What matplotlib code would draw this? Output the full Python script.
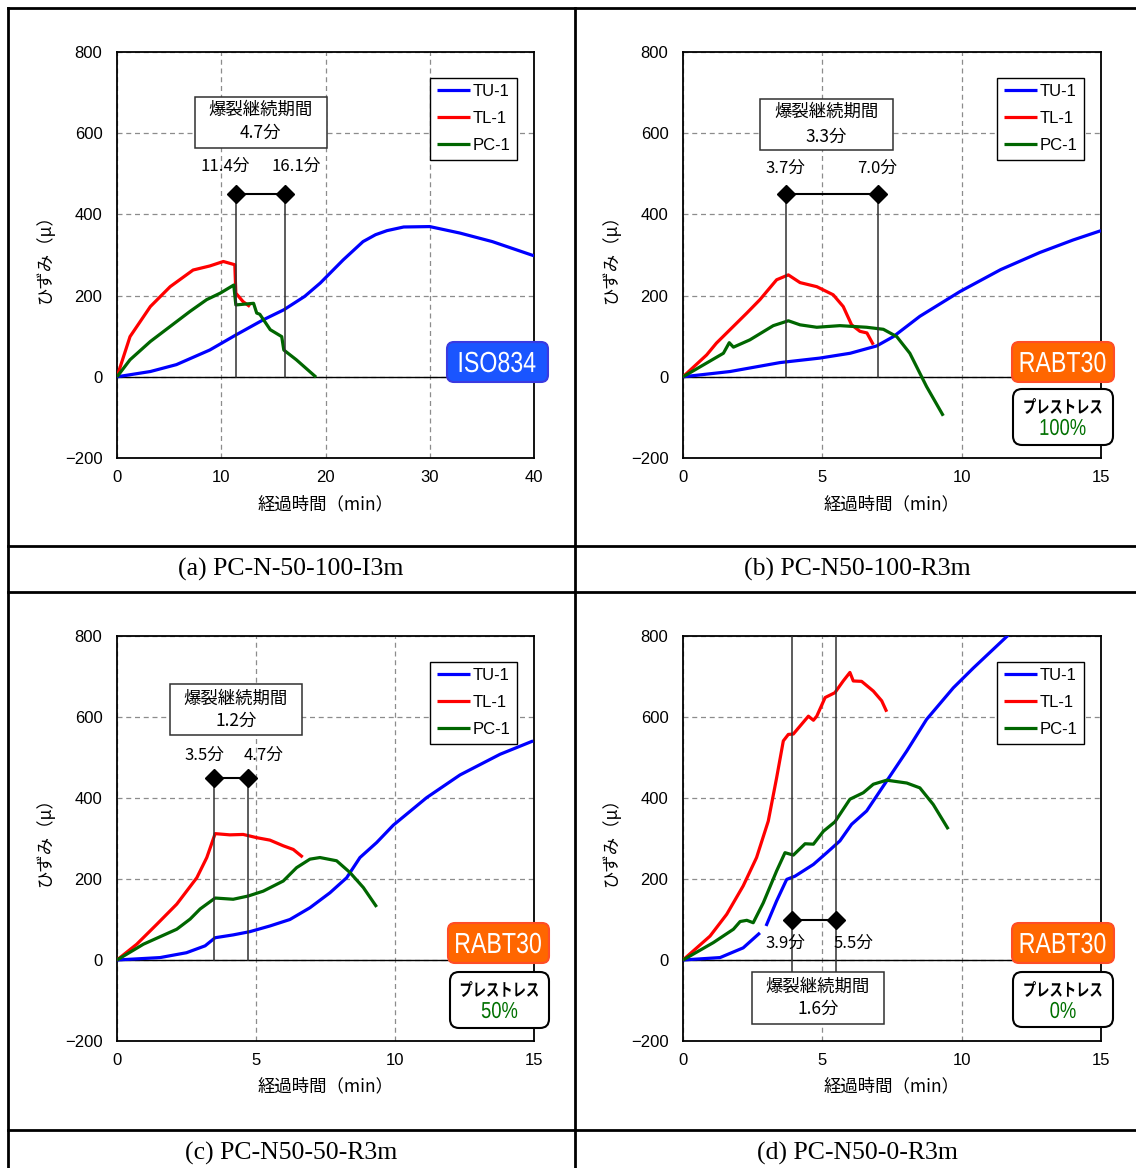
import numpy as np
import matplotlib
matplotlib.use('Agg')
import matplotlib.pyplot as plt
from matplotlib.patches import FancyBboxPatch, Rectangle, PathPatch
from matplotlib.lines import Line2D
from matplotlib.transforms import Affine2D
from matplotlib.textpath import TextPath
from matplotlib.font_manager import FontProperties

nan = float('nan')

# ---------------- data ----------------
series_names = ['TU-1', 'TL-1', 'PC-1']
series_colors = ['#0000ff', '#ff0000', '#006600']

# (a) PC-N-50-100-I3m
a_tu_t = [0, 3.2, 5.7, 8.9, 11.4, 14.0, 16.0, 18.0, 19.5, 21.7, 23.6, 24.8, 25.9, 27.5, 30.0, 32.9, 36.0, 40.0]
a_tu_v = [0, 13, 30, 66, 103, 140, 165, 198, 231, 288, 333, 350, 360, 369, 370, 354, 333, 298]
a_tl_t = [0, 1.25, 3.2, 5.1, 7.3, 8.9, 10.2, 11.3, 11.4, 12.1, 12.75]
a_tl_v = [0, 99, 173, 222, 263, 273, 284, 276, 206, 185, 173]
a_pc_t = [0, 1.25, 3.2, 5.1, 7.0, 8.6, 9.9, 11.2, 11.4, 13.1, 13.4, 13.7, 14.7, 15.8, 16.0, 17.2, 19.1]
a_pc_v = [0, 42, 87, 124, 161, 190, 206, 226, 177, 181, 157, 154, 116, 99, 66, 42, -1]

# (b) PC-N50-100-R3m
b_tu_t = [0, 1.69, 3.48, 4.9, 6.0, 6.95, 7.55, 8.5, 9.94, 11.4, 12.8, 14.0, 15.0]
b_tu_v = [0, 13, 35, 46, 58, 76, 99, 149, 210, 264, 306, 337, 360]
b_tl_t = [0, 0.85, 1.2, 2.29, 2.76, 3.36, 3.78, 4.2, 4.8, 5.39, 5.75, 6.05, 6.35, 6.6, 6.83]
b_tl_v = [0, 54, 83, 157, 190, 239, 251, 232, 222, 202, 173, 128, 112, 108, 79]
b_pc_t = [0, 0.85, 1.45, 1.66, 1.81, 2.4, 3.24, 3.78, 4.2, 4.8, 5.63, 6.59, 7.19, 7.67, 8.14, 8.74, 9.34]
b_pc_v = [0, 34, 58, 84, 73, 91, 126, 138, 128, 122, 126, 122, 117, 99, 58, -24, -96]

# (c) PC-N50-50-R3m
c_tu_t = [0, 1.55, 2.5, 3.17, 3.53, 4.18, 4.78, 5.5, 6.22, 6.94, 7.66, 8.26, 8.74, 9.34, 9.94, 11.14, 12.34, 13.78, 14.97]
c_tu_v = [0, 6, 18, 35, 55, 62, 70, 84, 100, 129, 166, 203, 253, 290, 333, 401, 457, 508, 541]
c_tl_t = [0, 0.71, 1.43, 2.15, 2.87, 3.23, 3.53, 4.06, 4.54, 5.03, 5.5, 5.98, 6.34, 6.68]
c_tl_v = [0, 39, 88, 138, 203, 253, 312, 309, 310, 302, 296, 282, 273, 254]
c_pc_t = [0, 0.95, 2.15, 2.63, 2.99, 3.53, 4.18, 4.72, 5.26, 5.98, 6.46, 6.94, 7.3, 7.9, 8.38, 8.86, 9.34]
c_pc_v = [0, 39, 76, 101, 126, 153, 150, 158, 170, 195, 228, 249, 253, 245, 216, 179, 131]

# (d) PC-N50-0-R3m
d_tu_t = [0, 1.33, 2.16, 2.76, nan, 2.98, 3.36, 3.72, 4.02, 4.68, 5.16, 5.63, 6.05, 6.59, 7.31, 8.03, 8.74, 9.7, 10.42, 11.13, 11.67]
d_tu_v = [0, 6, 30, 67, nan, 84, 146, 199, 207, 236, 265, 294, 335, 368, 442, 516, 594, 672, 721, 767, 802]
d_tl_t = [0, 0.97, 1.57, 2.16, 2.64, 3.06, 3.36, 3.6, 3.78, 3.96, 4.5, 4.68, 4.8, 5.1, 5.45, 5.75, 5.99, 6.11, 6.41, 6.83, 7.13, 7.31]
d_tl_v = [0, 59, 113, 183, 253, 343, 450, 541, 557, 558, 602, 592, 602, 648, 660, 689, 710, 689, 688, 664, 640, 613]
d_pc_t = [0, 1.09, 1.81, 2.05, 2.29, 2.52, 2.88, 3.36, 3.66, 3.96, 4.38, 4.68, 5.04, 5.45, 5.99, 6.47, 6.83, 7.31, 8.03, 8.5, 8.98, 9.52]
d_pc_v = [0, 43, 76, 95, 98, 92, 141, 220, 265, 259, 287, 286, 318, 341, 397, 413, 434, 444, 437, 425, 384, 323]

captions = ['(a) PC-N-50-100-I3m', '(b) PC-N50-100-R3m', '(c) PC-N50-50-R3m', '(d) PC-N50-0-R3m']
x_max = [40, 15, 15, 15]
x_ticks = [[0, 10, 20, 30, 40], [0, 5, 10, 15], [0, 5, 10, 15], [0, 5, 10, 15]]
y_ticks = [-200, 0, 200, 400, 600, 800]
spall_start = [11.4, 3.7, 3.5, 3.9]
spall_end = [16.1, 7.0, 4.7, 5.5]
spall_dur = [4.7, 3.3, 1.2, 1.6]
heating = ['ISO834', 'RABT30', 'RABT30', 'RABT30']
prestress = [None, '100%', '50%', '0%']
prestress_label = 'プレストレス'
spall_title = '爆裂継続期間'

ylabel = 'ひずみ（μ）'
xlabel = '経過時間（min）'

# ---------------- layout/styling ----------------
W, H = 1136, 1168
fig = plt.figure(figsize=(W / 100, H / 100), dpi=100)
px = Affine2D().scale(1 / W, -1 / H).translate(0, 1) + fig.transFigure

NARROW = ['Liberation Sans Narrow', 'Liberation Sans', 'DejaVu Sans']
JP = ['Noto Sans CJK JP', 'DejaVu Sans']
SERIF = ['Liberation Serif', 'DejaVu Serif']


def squeezed_text(text, cx, cy, size_px, sx, family, color, weight='normal', z=11):
    """Draw text horizontally squeezed by sx, centred at pixel (cx, cy)."""
    fp = FontProperties(family=family, weight=weight)
    tp = TextPath((0, 0), text, size=size_px, prop=fp)
    ext = tp.get_extents()
    mx = (ext.x0 + ext.x1) / 2
    my = (ext.y0 + ext.y1) / 2
    tr = Affine2D().translate(-mx, -my).scale(sx, -1).translate(cx, cy) + px
    fig.add_artist(PathPatch(tp, transform=tr, facecolor=color, edgecolor='none', zorder=z))


# table lines
table_lw = 2.0
for (x0, y0, x1, y1) in [(8, 8, 1136, 8), (8, 546, 1136, 546), (8, 592, 1136, 592),
                         (8, 1130, 1136, 1130), (8, 8, 8, 1168), (575, 8, 575, 1168)]:
    fig.add_artist(Line2D([x0, x1], [y0, y1], transform=px, color='black', lw=table_lw))

cap_pos = [(291, 569), (857, 569), (291, 1153), (857, 1153)]
for cap, (cx, cy) in zip(captions, cap_pos):
    fig.text(cx, cy, cap, transform=px, ha='center', va='center', fontsize=18.5, family=SERIF)

axes_rects = [(117, 52, 534, 458), (683, 52, 1101, 458), (117, 636, 534, 1041), (683, 636, 1101, 1041)]

all_data = [
    [(a_tu_t, a_tu_v), (a_tl_t, a_tl_v), (a_pc_t, a_pc_v)],
    [(b_tu_t, b_tu_v), (b_tl_t, b_tl_v), (b_pc_t, b_pc_v)],
    [(c_tu_t, c_tu_v), (c_tl_t, c_tl_v), (c_pc_t, c_pc_v)],
    [(d_tu_t, d_tu_v), (d_tl_t, d_tl_v), (d_pc_t, d_pc_v)],
]

# annotation placement (data coords)
ann = [
    dict(my=450, ly=(0, 450), lab_y=518, lab_dx=(-1.05, 1.1), box=(7.5, 20.1, 563, 690), ty=(658, 601)),
    dict(my=450, ly=(0, 450), lab_y=514, lab_dx=(-0.04, -0.05), box=(2.76, 7.52, 558, 684), ty=(652, 591)),
    dict(my=450, ly=(0, 450), lab_y=506, lab_dx=(-0.36, 0.59), box=(1.9, 6.64, 556, 682), ty=(644, 590)),
    dict(my=100, ly=(-29, 800), lab_y=40, lab_dx=(-0.24, 0.61), box=(2.46, 7.22, -157, -29), ty=(-67, -121)),
]

badge_rects = [(447, 342, 548, 382), (1012, 342, 1114, 382), (448, 923, 549, 963), (1012, 923, 1114, 963)]
pre_rects = [None, (1013, 389, 1113, 445), (450, 972, 549, 1028), (1013, 972, 1113, 1027)]
badge_colors = {'ISO834': ('#1a55ff', '#3a3ae0'), 'RABT30': ('#ff6600', '#ff4d26')}

for i in range(4):
    l, t, r, b = axes_rects[i]
    ax = fig.add_axes([l / W, 1 - b / H, (r - l) / W, (b - t) / H])
    ax.set_xlim(0, x_max[i])
    ax.set_ylim(-200, 800)
    ax.set_xticks(x_ticks[i])
    ax.set_yticks(y_ticks)
    ax.grid(True, color='#8c8c8c', ls=(0, (4, 3)), lw=0.9)
    ax.set_axisbelow(True)
    ax.axhline(0, color='black', lw=1.0, zorder=1.5)
    ax.tick_params(length=0, labelsize=12)
    ax.tick_params(axis='y', pad=10.5)
    ax.tick_params(axis='x', pad=8.5)
    for lab in ax.get_xticklabels() + ax.get_yticklabels():
        lab.set_fontfamily(NARROW)
    for s in ax.spines.values():
        s.set_linewidth(1.3)
        s.set_color('black')
    ax.text(-0.173, 0.5, ylabel, transform=ax.transAxes, rotation=90, ha='center', va='center',
            fontsize=12.5, family=JP)
    ax.text(0.5, -0.113, xlabel, transform=ax.transAxes, ha='center', va='center',
            fontsize=12.5, family=JP)

    # curves
    handles = []
    for (tt, vv), name, col in zip(all_data[i], series_names, series_colors):
        h, = ax.plot(tt, vv, color=col, lw=2.3, label=name, zorder=3, solid_capstyle='butt')
        handles.append(h)

    leg = ax.legend(handles=handles, loc='upper left', bbox_to_anchor=(0.751, 0.937),
                    borderaxespad=0, fancybox=False, framealpha=1, edgecolor='black',
                    prop={'family': NARROW, 'size': 12}, handlelength=2.0, handletextpad=0.15,
                    labelspacing=0.72, borderpad=0.4)
    leg.get_frame().set_linewidth(1.0)
    leg.set_zorder(5)

    # spalling annotation
    a = ann[i]
    t1, t2 = spall_start[i], spall_end[i]
    for tv in (t1, t2):
        ax.plot([tv, tv], a['ly'], color='#303030', lw=1.1, zorder=4)
    ax.plot([t1, t2], [a['my'], a['my']], color='black', lw=1.5, marker='D', ms=9,
            markerfacecolor='black', zorder=4)
    ax.text(t1 + a['lab_dx'][0], a['lab_y'], f'{t1:.1f}分', ha='center', va='center',
            fontsize=12, family=JP, zorder=4)
    ax.text(t2 + a['lab_dx'][1], a['lab_y'], f'{t2:.1f}分', ha='center', va='center',
            fontsize=12, family=JP, zorder=4)
    bx0, bx1, by0, by1 = a['box']
    ax.add_patch(Rectangle((bx0, by0), bx1 - bx0, by1 - by0, facecolor='white',
                           edgecolor='#303030', lw=1.1, zorder=5, clip_on=False))
    xc = (bx0 + bx1) / 2
    ax.text(xc, a['ty'][0], spall_title, ha='center', va='center', fontsize=12.5,
            family=JP, zorder=6)
    ax.text(xc, a['ty'][1], f'{spall_dur[i]:.1f}分', ha='center', va='center', fontsize=12.5,
            family=JP, zorder=6)

    # heating badge
    x0, y0, x1, y1 = badge_rects[i]
    fc, ec = badge_colors[heating[i]]
    fig.add_artist(FancyBboxPatch((x0 + 5, y0 + 5), x1 - x0 - 10, y1 - y0 - 10,
                                  boxstyle='round,pad=5,rounding_size=7', transform=px,
                                  facecolor=fc, edgecolor=ec, lw=1.5, zorder=10))
    squeezed_text(heating[i], (x0 + x1) / 2, (y0 + y1) / 2, 29, 0.8, NARROW, 'white')

    if pre_rects[i] is not None:
        x0, y0, x1, y1 = pre_rects[i]
        fig.add_artist(FancyBboxPatch((x0 + 6, y0 + 6), x1 - x0 - 12, y1 - y0 - 12,
                                      boxstyle='round,pad=6,rounding_size=9', transform=px,
                                      facecolor='white', edgecolor='black', lw=1.5, zorder=10))
        xc = (x0 + x1) / 2
        squeezed_text(prestress_label, xc, y0 + 17, 17.5, 0.76, JP, 'black', weight='bold')
        squeezed_text(prestress[i], xc, y0 + 38, 23, 0.8, NARROW, '#007000')

fig.savefig('out.png', dpi=100, facecolor='white')
